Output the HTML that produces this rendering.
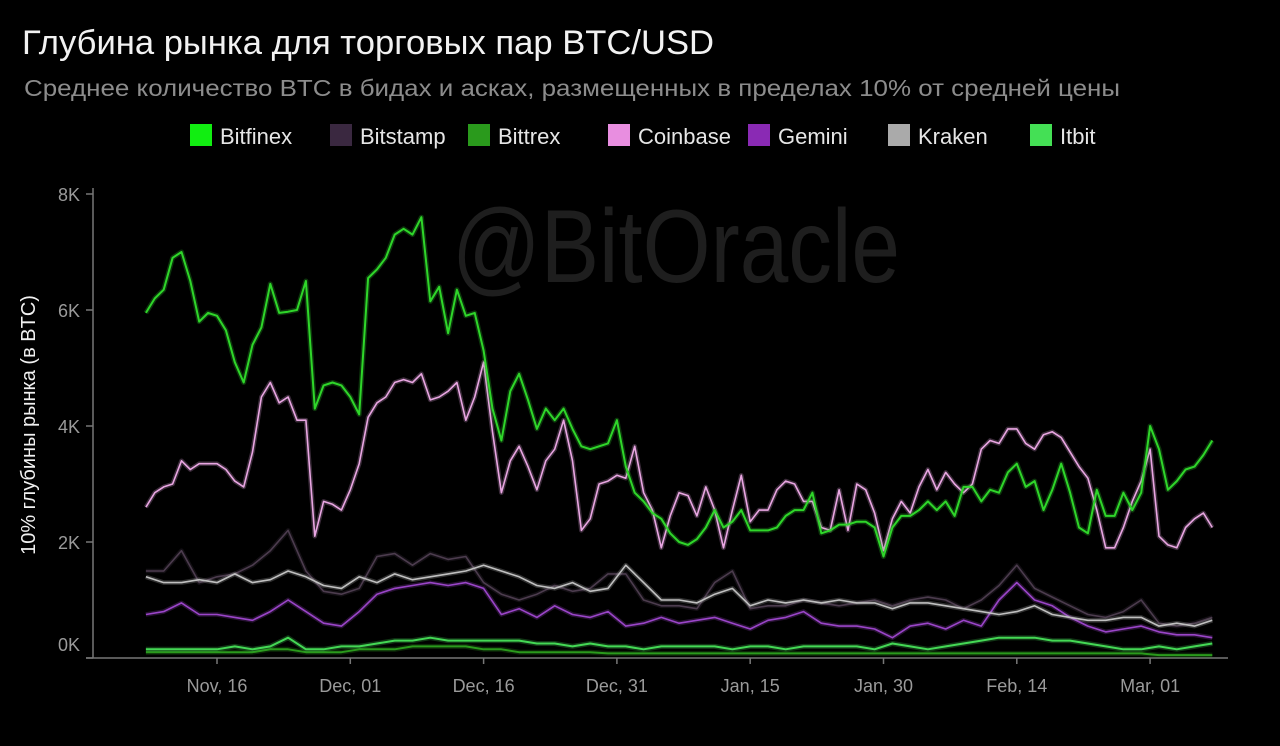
<!DOCTYPE html>
<html><head><meta charset="utf-8">
<style>
html,body{margin:0;padding:0;background:#000;}
svg{display:block;font-family:"Liberation Sans","DejaVu Sans",sans-serif;}
</style></head>
<body>
<svg id="chart" width="1280" height="746" viewBox="0 0 1280 746">
<rect width="1280" height="746" fill="#000"/>
<text x="22" y="54" font-size="34" fill="#f2f2f2" textLength="692" lengthAdjust="spacingAndGlyphs">Глубина рынка для торговых пар BTC/USD</text>
<text x="24" y="96" font-size="23" fill="#8c8c8c" textLength="1096" lengthAdjust="spacingAndGlyphs">Среднее количество BTC в бидах и асках, размещенных в пределах 10% от средней цены</text>
<text x="452" y="282" font-size="104" fill="#1e1e1e" textLength="448" lengthAdjust="spacingAndGlyphs">@BitOracle</text>
<g id="legend"></g>
<text transform="translate(35,425) rotate(-90)" text-anchor="middle" font-size="20" fill="#f0f0f0">10% глубины рынка (в BTC)</text>
<g id="axes"></g>
<g id="series"></g>
</svg>
<script>
const legendNames = ["Bitfinex","Bitstamp","Bittrex","Coinbase","Gemini","Kraken","Itbit"];
const legendColors = ["#11ee11","#3a2840","#2a9a1c","#e88ee0","#8a2ab4","#aaaaaa","#44e055"];
const legendX = [190,330,468,608,748,888,1030];
const yTicks = [0,2000,4000,6000,8000];
const yTickLabels = ["0K","2K","4K","6K","8K"];
const xTickDays = [0,15,30,45,60,75,90,105];
const xTickLabels = ["Nov, 16","Dec, 01","Dec, 16","Dec, 31","Jan, 15","Jan, 30","Feb, 14","Mar, 01"];
const startDay = -8;
const bitfinex = [5.95,6.2,6.35,6.9,7.0,6.5,5.8,5.95,5.9,5.65,5.1,4.75,5.4,5.7,6.45,5.95,5.97,6.0,6.5,4.3,4.7,4.75,4.7,4.5,4.2,6.55,6.7,6.9,7.3,7.4,7.3,7.6,6.15,6.4,5.6,6.35,5.9,5.95,5.3,4.3,3.75,4.6,4.9,4.45,3.95,4.3,4.1,4.3,3.95,3.65,3.6,3.65,3.7,4.1,3.3,2.85,2.7,2.5,2.4,2.15,2.0,1.95,2.05,2.25,2.55,2.25,2.35,2.55,2.2,2.2,2.2,2.25,2.45,2.55,2.55,2.85,2.15,2.2,2.3,2.3,2.35,2.35,2.25,1.75,2.25,2.45,2.45,2.55,2.7,2.55,2.7,2.45,2.95,2.95,2.7,2.9,2.85,3.2,3.35,2.95,3.05,2.55,2.9,3.35,2.85,2.25,2.15,2.9,2.45,2.45,2.85,2.55,2.85,4.0,3.6,2.9,3.05,3.25,3.3,3.5,3.75];
const coinbase = [2.6,2.85,2.95,3.0,3.4,3.25,3.35,3.35,3.35,3.25,3.05,2.95,3.55,4.5,4.75,4.4,4.5,4.1,4.1,2.1,2.7,2.65,2.55,2.9,3.35,4.15,4.4,4.5,4.75,4.8,4.75,4.9,4.45,4.5,4.6,4.75,4.1,4.5,5.1,3.9,2.85,3.4,3.65,3.3,2.9,3.4,3.6,4.1,3.4,2.2,2.4,3.0,3.05,3.15,3.1,3.65,2.85,2.55,1.9,2.45,2.85,2.8,2.45,2.95,2.55,1.9,2.55,3.15,2.35,2.55,2.55,2.9,3.05,3.0,2.7,2.7,2.25,2.2,2.9,2.2,3.0,2.9,2.5,1.85,2.4,2.7,2.5,2.95,3.25,2.9,3.2,3.0,2.85,3.0,3.6,3.75,3.7,3.95,3.95,3.7,3.6,3.85,3.9,3.8,3.55,3.3,3.1,2.55,1.9,1.9,2.25,2.7,3.05,3.6,2.1,1.95,1.9,2.25,2.4,2.5,2.25];
const kraken = [1.4,1.3,1.3,1.35,1.3,1.45,1.3,1.35,1.5,1.4,1.25,1.2,1.4,1.3,1.45,1.35,1.4,1.45,1.5,1.6,1.5,1.4,1.25,1.2,1.3,1.15,1.2,1.6,1.3,1.0,1.0,0.95,1.1,1.2,0.9,1.0,0.95,1.0,0.95,1.0,0.95,0.95,0.85,0.95,0.95,0.9,0.85,0.8,0.75,0.8,0.9,0.75,0.7,0.65,0.65,0.7,0.7,0.55,0.6,0.55,0.65];
const bitstamp = [1.5,1.5,1.85,1.3,1.4,1.45,1.6,1.85,2.2,1.5,1.15,1.1,1.2,1.75,1.8,1.6,1.8,1.7,1.75,1.3,1.1,1.0,1.1,1.25,1.15,1.2,1.45,1.45,1.0,0.9,0.9,0.85,1.3,1.5,0.85,0.9,0.9,1.0,0.95,0.9,0.95,1.0,0.9,1.0,1.05,1.0,0.85,1.0,1.25,1.6,1.2,1.05,0.9,0.75,0.7,0.8,1.0,0.6,0.55,0.6,0.7];
const gemini = [0.75,0.8,0.95,0.75,0.75,0.7,0.65,0.8,1.0,0.8,0.6,0.55,0.8,1.1,1.2,1.25,1.3,1.25,1.3,1.2,0.75,0.85,0.7,0.9,0.75,0.7,0.8,0.55,0.6,0.7,0.6,0.65,0.7,0.6,0.5,0.65,0.7,0.8,0.6,0.55,0.55,0.5,0.35,0.55,0.6,0.5,0.65,0.55,1.0,1.3,1.0,0.9,0.7,0.55,0.45,0.5,0.55,0.45,0.4,0.4,0.35];
const itbit = [0.15,0.15,0.15,0.15,0.15,0.2,0.15,0.2,0.35,0.15,0.15,0.2,0.2,0.25,0.3,0.3,0.35,0.3,0.3,0.3,0.3,0.3,0.25,0.25,0.2,0.25,0.2,0.2,0.15,0.2,0.2,0.2,0.2,0.15,0.2,0.2,0.15,0.2,0.2,0.2,0.2,0.15,0.25,0.2,0.15,0.2,0.25,0.3,0.35,0.35,0.35,0.3,0.3,0.25,0.2,0.15,0.15,0.2,0.15,0.2,0.25];
const bittrex = [0.1,0.1,0.1,0.1,0.1,0.1,0.1,0.15,0.15,0.1,0.1,0.1,0.15,0.15,0.15,0.2,0.2,0.2,0.2,0.15,0.15,0.1,0.1,0.1,0.1,0.1,0.08,0.08,0.08,0.08,0.08,0.08,0.08,0.08,0.08,0.08,0.08,0.08,0.08,0.08,0.08,0.08,0.08,0.08,0.08,0.08,0.08,0.08,0.08,0.08,0.08,0.08,0.08,0.08,0.08,0.08,0.08,0.05,0.05,0.05,0.05];

const NS = "http://www.w3.org/2000/svg";
const X0 = 217, DX = 133.3/15, Y0 = 658, YK = 58;
function xScale(day){ return X0 + day*DX; }
function yScale(v){ return Y0 - v*YK; }

const legend = document.getElementById('legend');
legendNames.forEach((n,i)=>{
  const g = document.createElementNS(NS,'g');
  
  
  const r = document.createElementNS(NS,'rect');
  r.setAttribute('x', legendX[i]); r.setAttribute('y', 124); r.setAttribute('width', 22); r.setAttribute('height', 22);
  r.setAttribute('fill', legendColors[i]);
  
  
  const t = document.createElementNS(NS,'text');
  t.setAttribute('x', legendX[i]+30); t.setAttribute('y', 144);
  t.setAttribute('font-size', 22); t.setAttribute('fill', '#e6e6e6');
  t.textContent = n;
  
  
  g.appendChild(r); g.appendChild(t); legend.appendChild(g);
});

const axes = document.getElementById('axes');
function line(x1,y1,x2,y2,c,name){
  const l = document.createElementNS(NS,'line');
  l.setAttribute('x1',x1);l.setAttribute('y1',y1);l.setAttribute('x2',x2);l.setAttribute('y2',y2);
  l.setAttribute('stroke',c);l.setAttribute('stroke-width',1.5);
  
  
  axes.appendChild(l);
}
line(93,188,93,Y0,'#777','y-axis-line');
line(86,Y0,1228,Y0,'#777','x-axis-line');
yTicks.forEach((v,i)=>{
  const y = yScale(v/1000);
  line(86,y,93,y,'#777','y-tick');
  const t = document.createElementNS(NS,'text');
  t.setAttribute('x',80); t.setAttribute('y', i===0 ? y-7 : y+7);
  t.setAttribute('text-anchor','end'); t.setAttribute('font-size',18); t.setAttribute('fill','#9a9a9a');
  t.textContent = yTickLabels[i];
  
  
  axes.appendChild(t);
});
xTickDays.forEach((d,i)=>{
  const x = xScale(d);
  line(x,Y0,x,Y0+6,'#777','x-tick');
  const t = document.createElementNS(NS,'text');
  t.setAttribute('x',x); t.setAttribute('y',692);
  t.setAttribute('text-anchor','middle'); t.setAttribute('font-size',18); t.setAttribute('fill','#9a9a9a');
  t.textContent = xTickLabels[i];
  
  
  axes.appendChild(t);
});

const seriesG = document.getElementById('series');
function drawSeries(vals, step, color, name, w){
  const pts = vals.map((v,i)=> xScale(startDay + i*step).toFixed(1) + ',' + yScale(v).toFixed(1)).join(' ');
  const glow = document.createElementNS(NS,'polyline');
  glow.setAttribute('points', pts); glow.setAttribute('fill','none');
  glow.setAttribute('stroke', color); glow.setAttribute('stroke-width', w+3); glow.setAttribute('stroke-opacity', 0.25);
  glow.setAttribute('stroke-linejoin','round');
  
  
  seriesG.appendChild(glow);
  const p = document.createElementNS(NS,'polyline');
  p.setAttribute('points', pts); p.setAttribute('fill','none');
  p.setAttribute('stroke', color); p.setAttribute('stroke-width', w);
  p.setAttribute('stroke-linejoin','round');
  
  
  seriesG.appendChild(p);
}
drawSeries(bittrex, 2, '#2a9a1c', 'bittrex-line', 2);
drawSeries(itbit, 2, '#44d855', 'itbit-line', 2);
drawSeries(gemini, 2, '#9a45c8', 'gemini-line', 1.6);
drawSeries(bitstamp, 2, '#4c3c4e', 'bitstamp-line', 1.6);
drawSeries(kraken, 2, '#c0c0c0', 'kraken-line', 1.6);
drawSeries(coinbase, 1, '#e9a6e2', 'coinbase-line', 1.6);
drawSeries(bitfinex, 1, '#2fd62a', 'bitfinex-line', 2);
</script>
</body></html>
